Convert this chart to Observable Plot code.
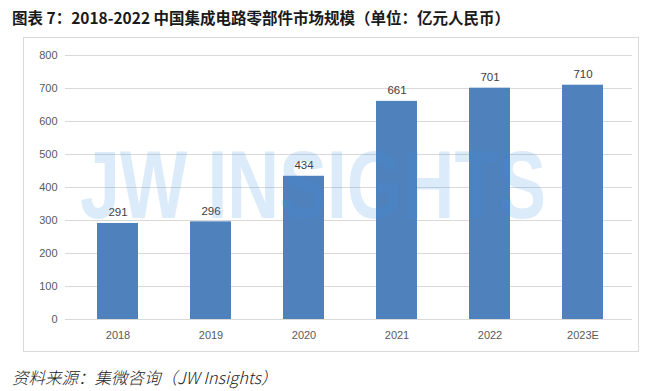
<!DOCTYPE html>
<html><head><meta charset="utf-8">
<script src="https://cdn.jsdelivr.net/npm/d3@7"></script>
<script src="https://cdn.jsdelivr.net/npm/@observablehq/plot@0.6"></script>
<style>
body{margin:0;background:#fff;width:660px;height:391px;overflow:hidden;position:relative;font-family:"Noto Sans CJK SC","Noto Sans",sans-serif;}
#title{position:absolute;left:12px;top:6px;font-size:15.5px;font-weight:bold;color:#1a1a1a;white-space:nowrap;}
#box{position:absolute;left:23px;top:37px;width:616px;height:315px;border:1px solid #d9d9d9;box-sizing:border-box;}
#chart{position:absolute;left:0;top:37px;}
#wm{position:absolute;left:0;top:0;pointer-events:none;}
#caption{position:absolute;left:12px;top:365px;font-size:16.5px;font-style:italic;font-weight:300;color:#222;white-space:nowrap;}
</style></head>
<body>
<div id="title">图表 7：2018-2022 中国集成电路零部件市场规模（单位：亿元人民币）</div>
<div id="box"></div>
<div id="chart"></div>
<svg id="wm" width="660" height="391"><text x="80" y="218" textLength="466" lengthAdjust="spacingAndGlyphs" font-family="Liberation Sans, sans-serif" font-weight="bold" font-size="97" fill="#3d8ee0" fill-opacity="0.18">JW INSIGHTS</text></svg>
<div id="caption">资料来源：集微咨询（JW Insights）</div>
<script>
const years = ["2018","2019","2020","2021","2022","2023E"];
const values = [291, 296, 434, 661, 701, 710];
const yTicks = [0,100,200,300,400,500,600,700,800];
const data = years.map((y,i)=>({year:y, value:values[i]}));
const chart = Plot.plot({
  width: 660, height: 318,
  marginLeft: 70, marginRight: 30, marginTop: 18, marginBottom: 36,
  style: {fontFamily: "Liberation Sans, sans-serif", fontSize: "11px", color: "#595959", background: "transparent"},
  x: {domain: years, paddingInner: 0.56, paddingOuter: 0.28, label: null, tickSize: 0, tickPadding: 12},
  y: {domain: [0, 800], ticks: yTicks, label: null, tickSize: 0, tickPadding: 13},
  marks: [
    Plot.ruleY(yTicks, {stroke: "#d9d9d9", strokeWidth: 1, insetLeft: -5, insetRight: -2}),
    Plot.barY(data, {x: "year", y: "value", fill: "#4f81bd"}),
    Plot.text(data, {x: "year", y: "value", text: d => String(d.value), lineAnchor: "bottom", dy: -7, fill: "#404040", fontSize: 11.5})
  ]
});
document.getElementById("chart").appendChild(chart);
</script>
</body></html>
